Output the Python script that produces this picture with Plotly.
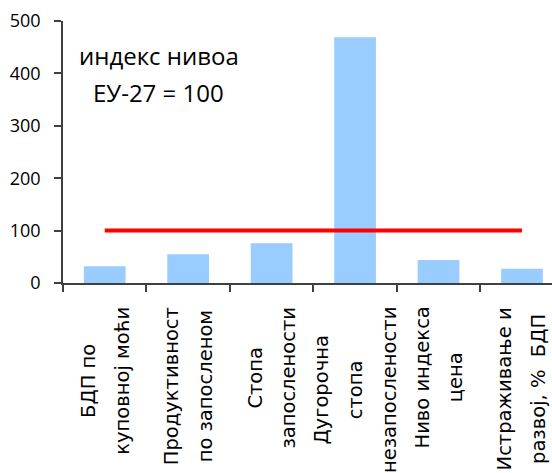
import plotly.graph_objects as go

# Indicator names (one list entry per printed line) and index values, EU-27 = 100
label_lines = [
    ["БДП по", "куповној моћи"],
    ["Продуктивност", "по запосленом"],
    ["Стопа", "запослености"],
    ["Дугорочна", "стопа", "незапослености"],
    ["Ниво индекса", "цена"],
    ["Истраживање и", "развој, %  БДП"],
]
categories = [" ".join(lines) for lines in label_lines]
index_values = [32, 55, 76, 469, 44, 27]
eu_reference = [100, 100, 100, 100, 100, 100]

y_ticks = [0, 100, 200, 300, 400, 500]
note_lines = ["индекс нивоа", "ЕУ-27 = 100"]

axis_color = "#404040"
label_font = "DejaVu Sans"
number_font = "Open Sans"

fig = go.Figure()

fig.add_trace(go.Bar(
    x=categories,
    y=index_values,
    width=0.5,
    marker=dict(color="#99CCFF", line=dict(width=0)),
    showlegend=False,
    hoverinfo="x+y",
))

fig.add_trace(go.Scatter(
    x=categories,
    y=eu_reference,
    mode="lines",
    line=dict(color="#FF0000", width=4),
    showlegend=False,
    hoverinfo="y",
))

# Rotated, centre-aligned category labels; the larger outer font sets line spacing
for cat, lines in zip(categories, label_lines):
    text = "<br>".join(f'<span style="font-size:19.5px">{ln}</span>' for ln in lines)
    fig.add_annotation(
        x=cat, xref="x",
        y=0, yref="paper",
        yanchor="top", xanchor="center",
        yshift=-22,
        text=text,
        textangle=-90,
        align="center",
        showarrow=False,
        font=dict(family=label_font, size=26, color="#000000"),
    )

# Two-line note in the upper-left corner of the plot
for line, ypos in zip(note_lines, [0.870, 0.729]):
    fig.add_annotation(
        x=0.196, xref="paper",
        y=ypos, yref="paper",
        xanchor="center", yanchor="middle",
        text=line,
        showarrow=False,
        font=dict(family=number_font, size=24, color="#000000"),
    )

fig.update_layout(
    width=552,
    height=473,
    margin=dict(l=63, r=0, t=21, b=190, pad=0),
    paper_bgcolor="white",
    plot_bgcolor="white",
    bargap=0.5,
    xaxis=dict(
        type="category",
        range=[-0.5, 5.36],
        showticklabels=False,
        tickson="boundaries",
        ticks="outside",
        ticklen=7,
        tickcolor=axis_color,
        tickwidth=1.5,
        showline=True,
        linecolor=axis_color,
        linewidth=1.5,
        showgrid=False,
        zeroline=False,
        fixedrange=True,
    ),
    yaxis=dict(
        range=[0, 500],
        tickvals=y_ticks,
        ticks="outside",
        ticklen=7,
        tickcolor=axis_color,
        tickwidth=1.5,
        showline=True,
        linecolor=axis_color,
        linewidth=1.5,
        showgrid=False,
        zeroline=False,
        ticklabelstandoff=10,
        tickfont=dict(family=number_font, size=18, color="#000000"),
        fixedrange=True,
    ),
)

fig.write_html("out.html")
